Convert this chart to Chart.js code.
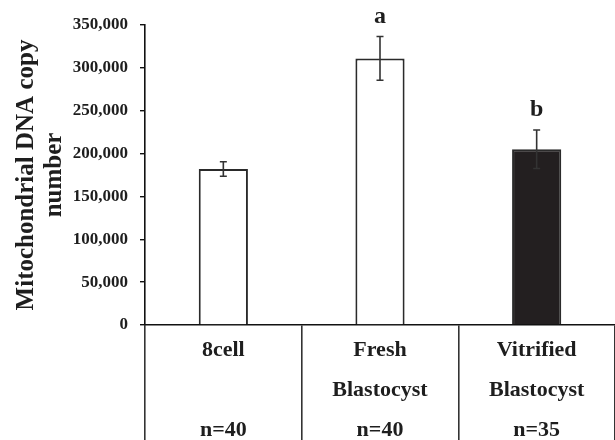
<!DOCTYPE html>
<html>
<head>
<meta charset="utf-8">
<script src="https://cdn.jsdelivr.net/npm/chart.js@4/dist/chart.umd.min.js"></script>
<style>
  html, body { margin: 0; padding: 0; background: #fff; }
  #wrap { width: 615px; height: 440px; }
</style>
</head>
<body>
<div id="wrap"><canvas id="c" width="615" height="440"></canvas></div>
<script>
// Mitochondrial DNA copy number per embryo group
const groupLines = [
  ['8cell', '', 'n=40'],
  ['Fresh', 'Blastocyst', 'n=40'],
  ['Vitrified', 'Blastocyst', 'n=35']
];
const meanCopies = [182000, 311000, 205000];
const errCopies = [8500, 25500, 22500];
const sigLetters = ['', 'a', 'b'];
const barFills = ['#ffffff', '#ffffff', '#231f20'];
const yTicks = [0, 50000, 100000, 150000, 200000, 250000, 300000, 350000];

const SERIF = '"Liberation Serif", "Times New Roman", serif';
const INK = '#1e1e1e';

// Error bars and significance letters drawn through the value scale
const errorBarPlugin = {
  id: 'errorBars',
  afterDatasetsDraw(chart) {
    const { ctx, scales: { x, y } } = chart;
    ctx.save();
    ctx.strokeStyle = '#333333';
    ctx.lineWidth = 1.6;
    meanCopies.forEach((m, i) => {
      const cx = x.getPixelForValue(i);
      const yTop = y.getPixelForValue(m + errCopies[i]);
      const yBot = y.getPixelForValue(m - errCopies[i]);
      ctx.beginPath();
      ctx.moveTo(cx, yTop); ctx.lineTo(cx, yBot);
      ctx.moveTo(cx - 3.5, yTop); ctx.lineTo(cx + 3.5, yTop);
      ctx.moveTo(cx - 3.5, yBot); ctx.lineTo(cx + 3.5, yBot);
      ctx.stroke();
      if (sigLetters[i]) {
        ctx.fillStyle = INK;
        ctx.font = 'bold 24px ' + SERIF;
        ctx.textAlign = 'center';
        ctx.textBaseline = 'middle';
        ctx.fillText(sigLetters[i], cx, yTop - 20);
      }
    });
    ctx.restore();
  }
};

new Chart(document.getElementById('c'), {
  type: 'bar',
  data: {
    labels: groupLines,
    datasets: [{
      data: meanCopies,
      backgroundColor: barFills,
      borderColor: '#2a2a2a',
      borderWidth: 2,
      borderSkipped: 'bottom',
      categoryPercentage: 1,
      barPercentage: 0.314
    }]
  },
  options: {
    responsive: false,
    animation: false,
    devicePixelRatio: 1,
    layout: { padding: { top: 25, right: 0, bottom: 0, left: 0 } },
    plugins: { legend: { display: false }, tooltip: { enabled: false } },
    scales: {
      x: {
        offset: true,
        border: { display: true, color: '#111', width: 1.6 },
        grid: {
          offset: true,
          drawOnChartArea: false,
          drawTicks: true,
          tickLength: 115,
          color: '#333',
          lineWidth: 1.6
        },
        ticks: {
          autoSkip: false,
          maxRotation: 0,
          padding: -110,
          color: INK,
          font: { family: SERIF, size: 22, weight: 'bold', lineHeight: '40px' }
        },
        afterFit(scale) { scale.height = 115; }
      },
      y: {
        min: 0,
        max: 350000,
        afterBuildTicks(scale) { scale.ticks = yTicks.map(v => ({ value: v })); },
        border: { display: true, color: '#111', width: 1.6 },
        grid: {
          drawOnChartArea: false,
          drawTicks: true,
          tickLength: 5,
          color: '#111',
          lineWidth: 1.4
        },
        ticks: {
          padding: 12,
          color: INK,
          font: { family: SERIF, size: 17, weight: 'bold' },
          callback: v => Number(v).toLocaleString('en-US')
        },
        title: {
          display: true,
          text: ['Mitochondrial DNA copy', 'number'],
          color: INK,
          font: { family: SERIF, size: 25, weight: 'bold', lineHeight: '28px' },
          padding: { top: 13, bottom: 0 }
        },
        afterFit(scale) { scale.width = 145; }
      }
    }
  },
  plugins: [errorBarPlugin]
});
</script>
</body>
</html>
